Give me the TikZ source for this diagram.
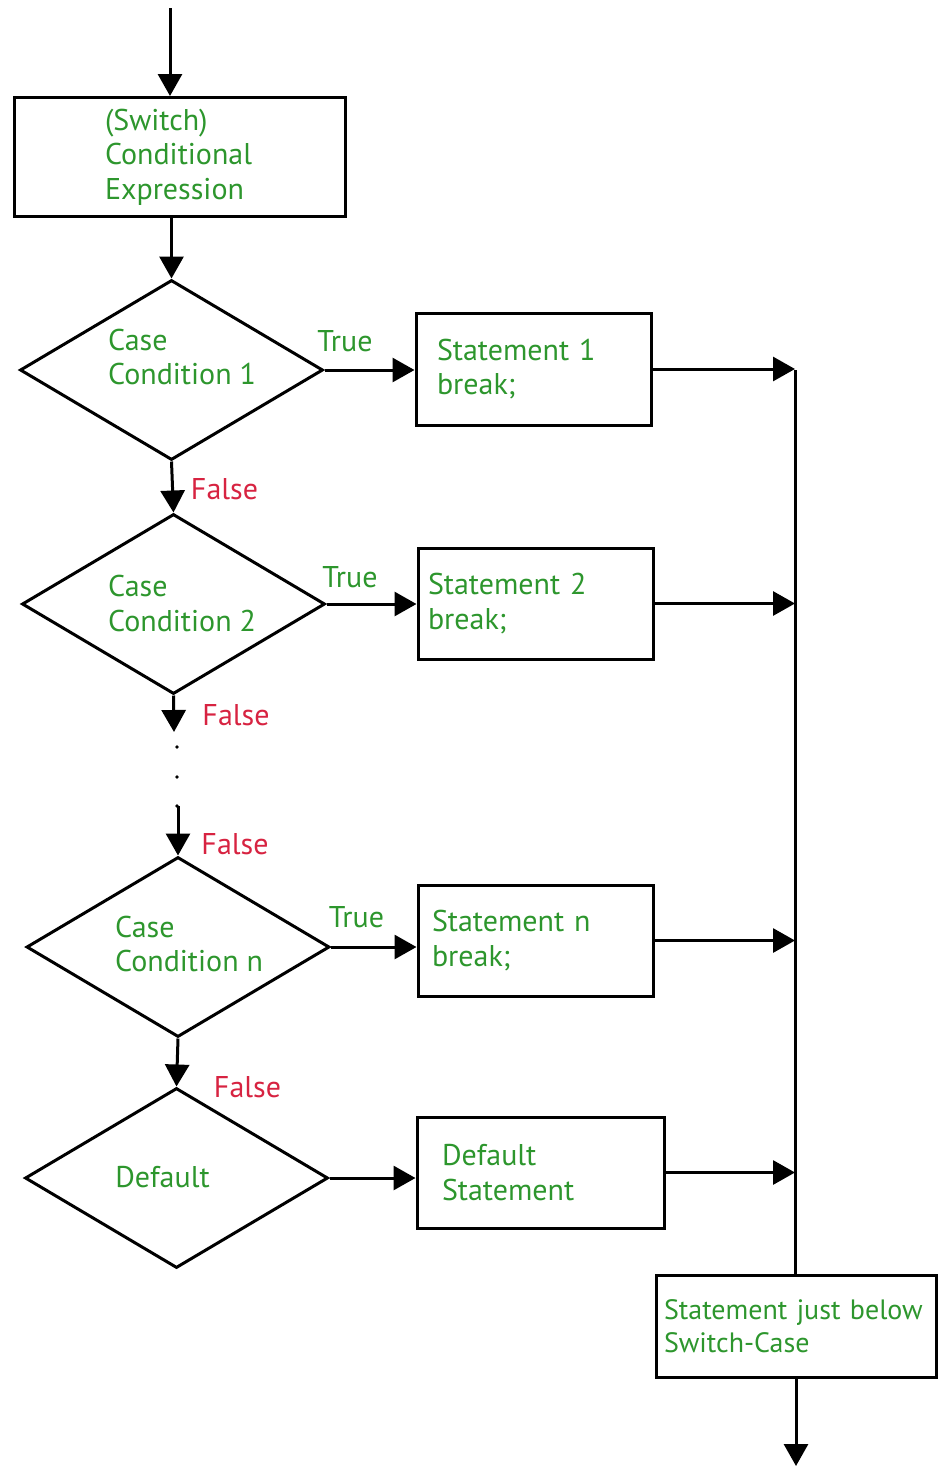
\documentclass[tikz,border=0pt]{standalone}
\usepackage{fontspec}
\setmainfont{PT Sans}
\usepackage{xcolor}
\usetikzlibrary{shapes.geometric,arrows.meta}
\definecolor{txtgreen}{RGB}{45,150,45}
\definecolor{txtred}{RGB}{215,35,65}

\tikzset{
  flow/.style={line width=3pt, -{Triangle[length=22pt,width=24pt]}},
  block/.style={draw, line width=3pt, rectangle, align=left, text=txtgreen, inner ysep=0pt},
  cond/.style={draw, line width=3pt, diamond, minimum width=303pt, minimum height=180pt, inner sep=0pt},
  condtxt/.style={anchor=west, align=left, text=txtgreen, inner sep=0pt},
  yes/.style={text=txtgreen, inner sep=0pt},
  no/.style={text=txtred, inner sep=0pt},
}

\begin{document}
\begin{tikzpicture}[x=1pt, y=-1pt, font=\fontsize{30}{34.5}\selectfont]
\useasboundingbox (0,0) rectangle (938,1468);

% switch expression
\coordinate (start) at (170,8);
\node[block, text width=149pt, inner xsep=91pt, minimum height=119pt] (expr) at (179.5,157) {(Switch)\\Conditional\\Expression};
\draw[flow] (start) -- (start |- expr.north);

% case diamonds
\node[cond] (c1) at (171.5,370) {};
\node[condtxt] (c1txt) at (108,357) {Case\\Condition 1};
\node[cond] (c2) at (173.5,604) {};
\node[condtxt] (c2txt) at (108,603.5) {Case\\Condition 2};
\node[cond] (cn) at (178,947) {};
\node[condtxt] (cntxt) at (115,944) {Case\\Condition n};
\node[cond] (cd) at (176.5,1178) {};
\node[text=txtgreen, inner sep=0pt] (cdtxt) at (162.5,1177) {Default};

% statements
\node[block, text width=193pt, inner xsep=21pt, minimum height=112pt] (s1) at (533.5,369) {Statement 1\\break;};
\node[block, text width=215pt, inner xsep=10pt, minimum height=111pt] (s2) at (535.5,603.5) {Statement 2\\break;};
\node[block, text width=207pt, inner xsep=14pt, minimum height=111pt] (sn) at (535.5,940.5) {Statement n\\break;};
\node[block, text width=197pt, inner xsep=25pt, minimum height=111pt] (sd) at (540.5,1172.5) {Default\\Statement};
\node[block, text width=264pt, inner xsep=8pt, minimum height=102pt, font=\fontsize{28}{33}\selectfont] (after) at (796,1326) {\mbox{Statement just below}\\Switch-Case};

% down the left
\draw[flow] (c1.north |- expr.south) -- (c1.north);
\draw[flow] (c1.south) -- (c2.north);
\coordinate (gaptop) at (174,732);
\coordinate (gapbot) at (178,806);
\draw[flow] (c2.south) -- (gaptop);
\foreach \y in {747,777,806} \fill (177,\y) circle (1.8pt);
\draw[flow] (gapbot) -- (cn.north);
\draw[flow] (cn.south) -- (cd.north);

% true branches
\draw[flow] (c1.east) -- (c1.east -| s1.west);
\draw[flow] (c2.east) -- (c2.east -| s2.west);
\draw[flow] (cn.east) -- (cn.east -| sn.west);
\draw[flow] (cd.east) -- (cd.east -| sd.west);

% bus on the right
\coordinate (bus) at (795,370);
\draw[line width=3pt] (bus) -- (bus |- after.north);
\draw[flow] (s1.east) -- (s1.east -| bus);
\draw[flow] (s2.east) -- (s2.east -| bus);
\draw[flow] (sn.east) -- (sn.east -| bus);
\draw[flow] (sd.east) -- (sd.east -| bus);
\coordinate (finish) at (796,1466);
\draw[flow] (after.south) -- (after.south |- finish);

% labels
\node[yes] (t1) at (345,341) {True};
\node[yes] (t2) at (350,577) {True};
\node[yes] (tn) at (356.5,917) {True};
\node[no] (f1) at (224.5,489) {False};
\node[no] (f2) at (236,715) {False};
\node[no] (f3) at (235,844) {False};
\node[no] (f4) at (247.5,1087) {False};
\end{tikzpicture}
\end{document}
